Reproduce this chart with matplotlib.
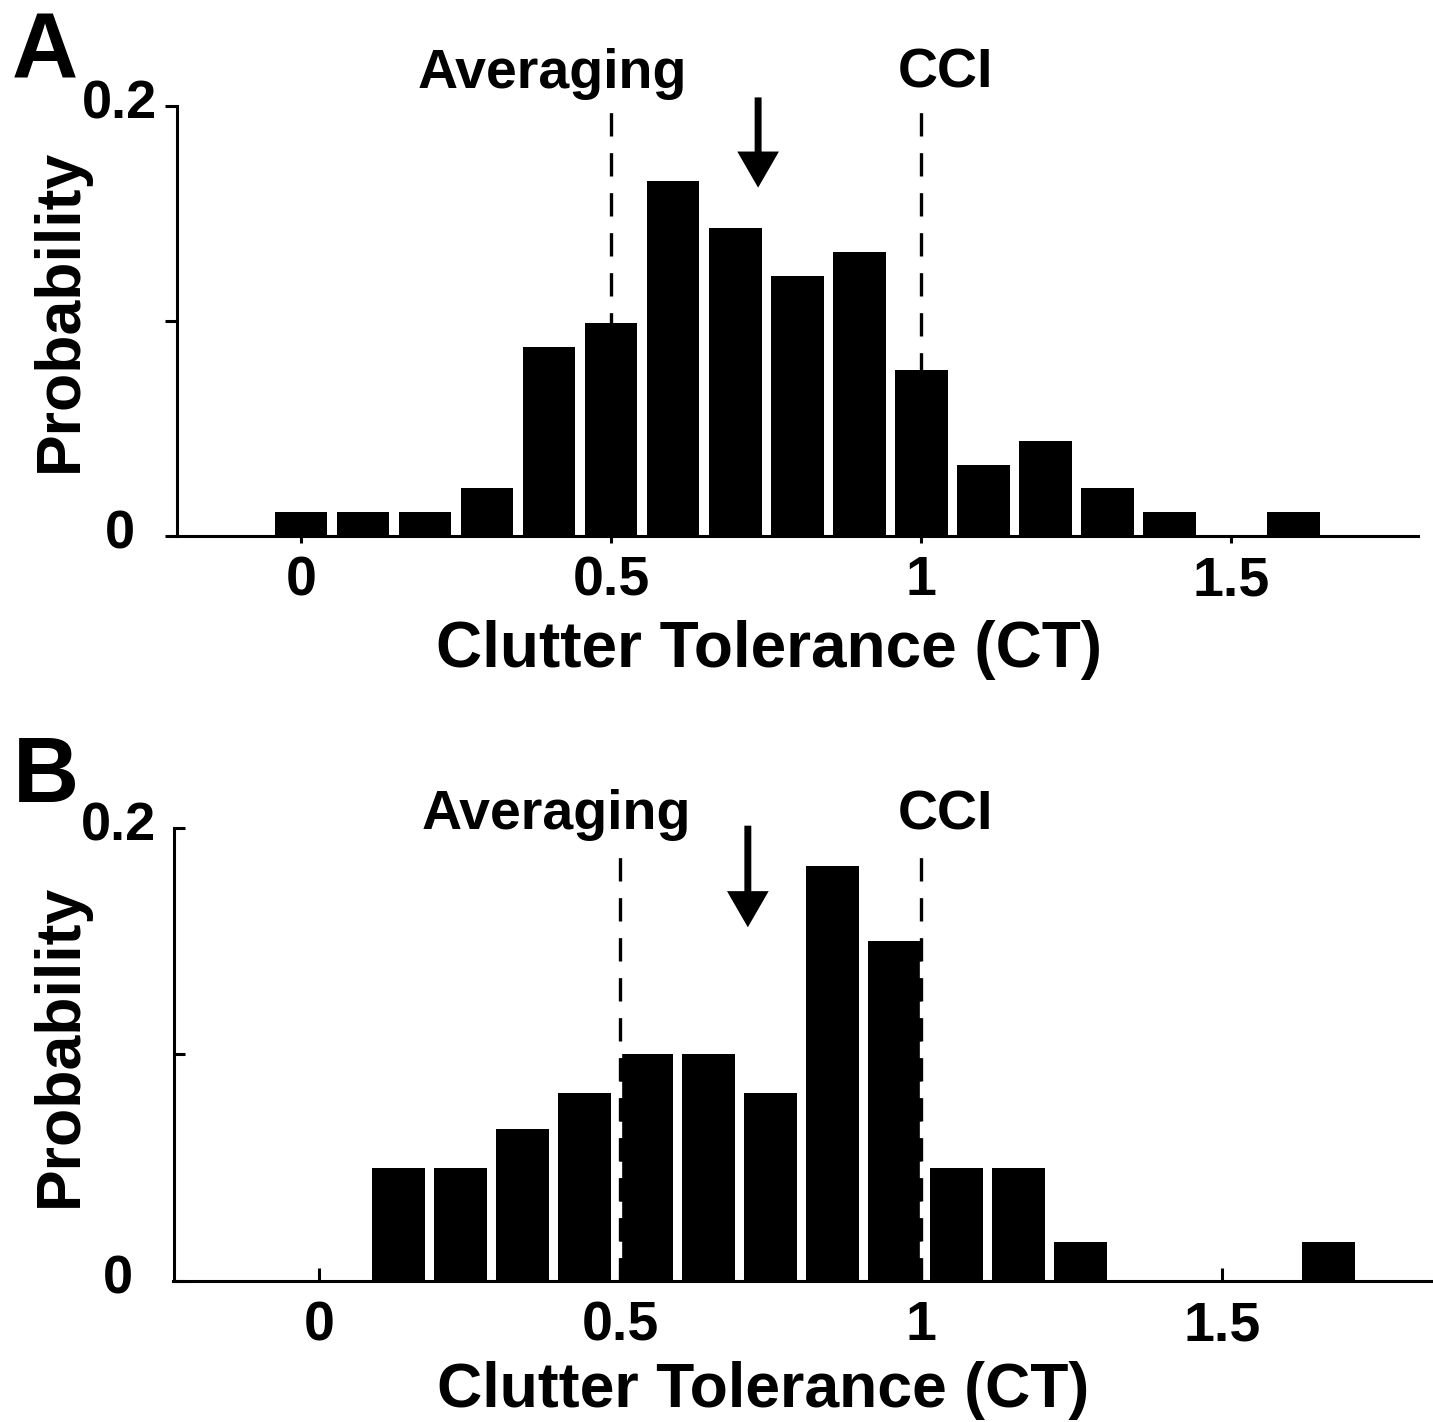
import matplotlib
matplotlib.use("Agg")
import matplotlib.pyplot as plt
from matplotlib.transforms import ScaledTranslation

plt.rcParams['font.family'] = ['Liberation Sans', 'DejaVu Sans']
plt.rcParams['font.weight'] = 'bold'

# ---------------- data ----------------
a_centers = [0.0, 0.1, 0.2, 0.3, 0.4, 0.5, 0.6, 0.7, 0.8, 0.9, 1.0, 1.1, 1.2, 1.3, 1.4, 1.5, 1.6]
a_probs = [0.011, 0.011, 0.011, 0.022, 0.088, 0.099, 0.165, 0.143, 0.121, 0.132,
           0.077, 0.033, 0.044, 0.022, 0.011, 0.0, 0.011]
a_arrow_x = 0.737

b_centers = [0.132, 0.235, 0.338, 0.441, 0.544, 0.647, 0.750, 0.853, 0.956, 1.059,
             1.162, 1.265, 1.368, 1.471, 1.574, 1.677]
b_probs = [0.05, 0.05, 0.067, 0.083, 0.10, 0.10, 0.083, 0.183, 0.15, 0.05,
           0.05, 0.017, 0.0, 0.0, 0.0, 0.017]
b_arrow_x = 0.712

ref_lines = [0.5, 1.0]
ref_names = ["Averaging", "CCI"]
xticks = [0, 0.5, 1, 1.5]
xticklabels = ["0", "0.5", "1", "1.5"]
yticks = [0, 0.1, 0.2]
yticklabels = ["0", "", "0.2"]
xlabel = "Clutter Tolerance (CT)"
ylabel = "Probability"

W, H = 1433, 1422
fig = plt.figure(figsize=(W / 100, H / 100), dpi=100)

LW = 2.2


def setup(ax, xlim, tickdir, ylen, ypad, xlen, xpad):
    ax.set_xlim(*xlim)
    ax.set_ylim(0, 0.2)
    for s in ['top', 'right']:
        ax.spines[s].set_visible(False)
    for s in ['left', 'bottom']:
        ax.spines[s].set_linewidth(LW)
    ax.set_xticks(xticks)
    ax.set_xticklabels(xticklabels)
    ax.set_yticks(yticks)
    ax.set_yticklabels(yticklabels)
    ax.tick_params(axis='y', direction=tickdir, length=ylen, width=LW, pad=ypad, labelsize=39)
    ax.tick_params(axis='x', direction=tickdir, length=xlen, width=LW, pad=xpad, labelsize=40)
    for lbl in ax.get_yticklabels():
        lbl.set_ha('center')
        lbl.set_fontweight('bold')
        lbl.set_transform(lbl.get_transform() + ScaledTranslation(0, 5 / 72, fig.dpi_scale_trans))
    for lbl in ax.get_xticklabels():
        lbl.set_fontweight('bold')


def arrow(ax, x, ytop, ytip):
    ax.annotate('', xy=(x, ytip), xytext=(x, ytop),
                arrowprops=dict(arrowstyle='simple,head_length=26,head_width=30,tail_width=5',
                                mutation_scale=1, fc='black', ec='none',
                                shrinkA=0, shrinkB=0),
                annotation_clip=False)


# ---------------- panel A ----------------
axA = fig.add_axes([176.8 / W, 1 - 535.7 / H, (1417.6 - 176.8) / W, (535.7 - 106) / H])
setup(axA, (-0.2, 1.8), 'out', 9, 32, 5, 9)
for xv in ref_lines:
    axA.plot([xv, xv], [0, 0.2], color='black', lw=2.4, dashes=(7, 5), zorder=1, clip_on=False)
axA.bar(a_centers, a_probs, width=0.085, color='black', edgecolor='none', zorder=2)
axA.text(0.4055, 0.2085, ref_names[0], ha='center', va='baseline', fontsize=40, fontweight='bold')
axA.text(1.039, 0.2085, ref_names[1], ha='center', va='baseline', fontsize=40, fontweight='bold')
arrow(axA, a_arrow_x, 0.204, 0.162)
axA.set_xlabel(xlabel, fontsize=46, fontweight='bold')
axA.xaxis.set_label_coords(0.4769, -0.196)
axA.set_ylabel(ylabel, fontsize=45, fontweight='bold')
axA.yaxis.set_label_coords(-0.07, 0.525)

# ---------------- panel B ----------------
axB = fig.add_axes([173.5 / W, 1 - 1281 / H, (1433 - 173.5) / W, (1281 - 827.5) / H])
setup(axB, (-0.2425, 1.8507), 'in', 8, 40, 9.5, 14)
axB.bar(b_centers, b_probs, width=0.088, color='black', edgecolor='none', zorder=2)
for xv in ref_lines:
    axB.plot([xv, xv], [0, 0.194], color='black', lw=2.4, dashes=(7, 5), gapcolor='white',
             zorder=3, clip_on=False)
axB.text(0.394, 0.1993, ref_names[0], ha='center', va='baseline', fontsize=40, fontweight='bold')
axB.text(1.04, 0.1993, ref_names[1], ha='center', va='baseline', fontsize=40, fontweight='bold')
arrow(axB, b_arrow_x, 0.2008, 0.156)
axB.set_xlabel(xlabel, fontsize=45, fontweight='bold')
axB.xaxis.set_label_coords(0.4684, -0.176)
axB.set_ylabel(ylabel, fontsize=45, fontweight='bold')
axB.yaxis.set_label_coords(-0.0663, 0.520)

# panel letters
fig.text(12 / W, 1 - 77 / H, "A", fontsize=66, fontweight='bold', ha='left', va='baseline')
fig.text(13 / W, 1 - 802 / H, "B", fontsize=66, fontweight='bold', ha='left', va='baseline')

fig.savefig("out.png", dpi=100, facecolor='white')
